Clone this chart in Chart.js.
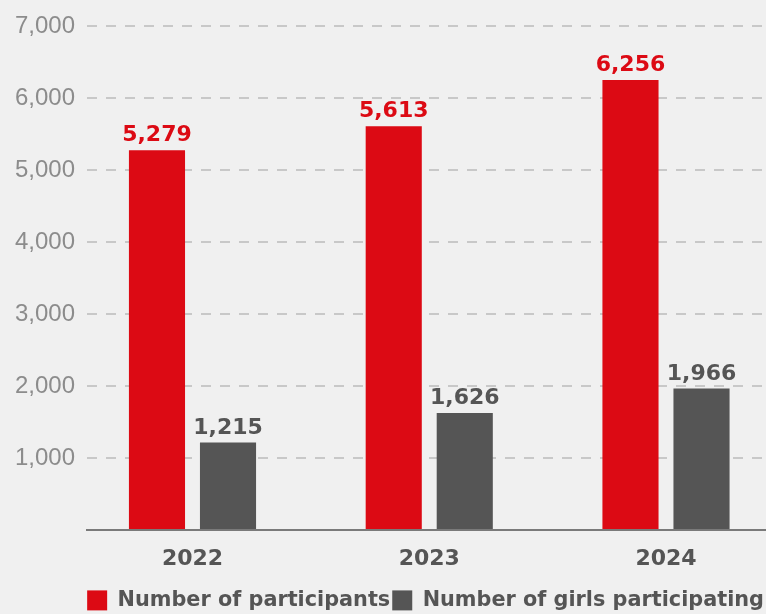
<!DOCTYPE html>
<html>
<head>
<meta charset="utf-8">
<script src="https://cdn.jsdelivr.net/npm/chart.js@4.4.0/dist/chart.umd.min.js"></script>
<style>
  html, body { margin: 0; padding: 0; background: #f0f0f0; overflow: hidden; }
  #wrap { width: 766px; height: 614px; }
</style>
</head>
<body>
<div id="wrap"><canvas id="chart" width="766" height="614"></canvas></div>
<script>
const years = [2022, 2023, 2024]
const participants = [5279, 5613, 6256]
const girls = [1215, 1626, 1966]
const yTicks = [0, 1000, 2000, 3000, 4000, 5000, 6000, 7000]

const RED = '#dc0a14'
const GREY = '#555555'
const BOLD = '"DejaVu Sans", sans-serif'

// valeurs au-dessus des barres
const barLabels = {
  id: 'barLabels',
  afterDatasetsDraw(chart) {
    const ctx = chart.ctx
    ctx.save()
    ctx.font = 'bold 22px ' + BOLD
    ctx.textAlign = 'center'
    ctx.textBaseline = 'alphabetic'
    chart.data.datasets.forEach((ds, i) => {
      const meta = chart.getDatasetMeta(i)
      meta.data.forEach((bar, j) => {
        ctx.fillStyle = ds.labelColor
        ctx.fillText(ds.data[j].toLocaleString('en-US'), bar.x, bar.y - 9)
      })
    })
    ctx.restore()
  }
}

new Chart(document.getElementById('chart'), {
  type: 'bar',
  data: {
    labels: years,
    datasets: [
      {
        label: 'Number of participants',
        data: participants,
        backgroundColor: RED,
        labelColor: RED,
        borderWidth: 0,
        barPercentage: 0.79,
        categoryPercentage: 0.6
      },
      {
        label: 'Number of girls participating',
        data: girls,
        backgroundColor: GREY,
        labelColor: GREY,
        borderWidth: 0,
        barPercentage: 0.79,
        categoryPercentage: 0.6
      }
    ]
  },
  options: {
    responsive: false,
    animation: false,
    layout: { padding: { top: 23, left: 0, right: 0, bottom: 0 } },
    plugins: {
      tooltip: { enabled: false },
      legend: {
        position: 'bottom',
        align: 'end',
        maxHeight: 26,
        labels: {
          boxWidth: 20,
          boxHeight: 20,
          padding: 2,
          color: GREY,
          font: { family: BOLD, size: 20.8, weight: 'bold' }
        }
      }
    },
    scales: {
      x: {
        type: 'linear',
        offset: false,
        min: years[0] - 0.4456,
        max: years[0] - 0.4456 + 679 / 236.75,
        grid: { display: false, drawTicks: false, offset: false },
        border: { display: true, color: '#7a7a7a', width: 2 },
        ticks: {
          stepSize: 1,
          includeBounds: false,
          padding: 0,
          color: GREY,
          font: { family: BOLD, size: 22, weight: 'bold', lineHeight: '58px' },
          callback: v => years.includes(v) ? String(v) : ''
        }
      },
      y: {
        min: yTicks[0],
        max: yTicks[yTicks.length - 1],
        afterFit(scale) { scale.width = 87 },
        afterBuildTicks(scale) { scale.ticks = yTicks.map(v => ({ value: v })) },
        grid: {
          drawTicks: false,
          lineWidth: 2,
          color: c => c.tick && c.tick.value === 0 ? 'rgba(0,0,0,0)' : '#c8c8c8'
        },
        border: { display: false, dash: [10, 9] },
        ticks: {
          padding: 12,
          color: '#8c8c8c',
          font: { family: '"Liberation Sans", sans-serif', size: 24 },
          callback: v => v === 0 ? '' : v.toLocaleString('en-US')
        }
      }
    }
  },
  plugins: [barLabels]
})
</script>
</body>
</html>
